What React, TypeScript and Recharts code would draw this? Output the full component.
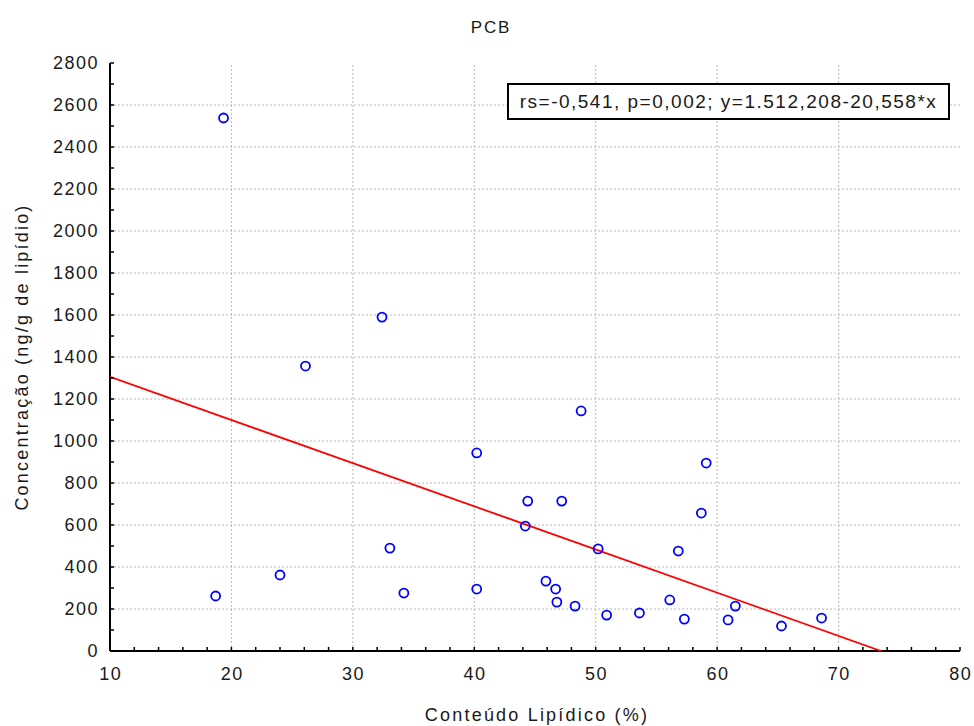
import React from 'react';
import { ScatterChart, Scatter, XAxis, YAxis, ReferenceLine } from 'recharts';

const lipidContent = [18.7, 19.35, 24.0, 26.1, 32.4, 33.05, 34.2, 40.2, 40.2, 44.2, 44.4, 45.9, 46.7, 46.8, 47.2, 48.3, 48.8, 50.2, 50.9, 53.6, 56.1, 56.8, 57.3, 58.7, 59.1, 60.9, 61.5, 65.3, 68.6];
const pcbConc = [262, 2538, 362, 1357, 1590, 490, 276, 943, 295, 595, 714, 333, 295, 233, 714, 214, 1143, 486, 171, 181, 243, 476, 152, 657, 895, 148, 214, 119, 157];
const fitX = [10, 73.5];
const fitY = [1306, 0];
const xTicks = [10, 12, 14, 16, 18, 20, 22, 24, 26, 28, 30, 32, 34, 36, 38, 40, 42, 44, 46, 48, 50, 52, 54, 56, 58, 60, 62, 64, 66, 68, 70, 72, 74, 76, 78, 80];
const yTicks = [0, 100, 200, 300, 400, 500, 600, 700, 800, 900, 1000, 1100, 1200, 1300, 1400, 1500, 1600, 1700, 1800, 1900, 2000, 2100, 2200, 2300, 2400, 2500, 2600, 2700, 2800];
const xGrid = [20, 30, 40, 50, 60, 70];
const yGrid = [200, 400, 600, 800, 1000, 1200, 1400, 1600, 1800, 2000, 2200, 2400, 2600];

const points = lipidContent.map((x, i) => ({ x, y: pcbConc[i] }));
const fitLine = fitX.map((x, i) => ({ x, y: fitY[i] }));

const FONT = '"Liberation Sans", Arial, sans-serif';
const TXT = '#1a1a1a';
const TL = 4;

const XTickBottom = (props: any) => {
  const { x, y, payload } = props;
  const v = payload.value;
  const major = v % 10 === 0;
  return (
    <g>
      <line x1={x} y1={y} x2={x} y2={y - TL} stroke="#000" strokeWidth={1.5} />
      {major && (
        <text x={x + 0.75} y={y + 29} textAnchor="middle" fontFamily={FONT} fontSize={18} letterSpacing={1.5} fill={TXT}>
          {v}
        </text>
      )}
    </g>
  );
};

const XTickTop = (props: any) => {
  const { x, y } = props;
  return <line x1={x} y1={y} x2={x} y2={y + TL} stroke="#000" strokeWidth={1.5} />;
};

const YTickLeft = (props: any) => {
  const { x, y, payload } = props;
  const v = payload.value;
  const major = v % 200 === 0;
  return (
    <g>
      <line x1={x} y1={y} x2={x + TL} y2={y} stroke="#000" strokeWidth={1.5} />
      {major && (
        <text x={x - 11} y={y} dy="0.36em" textAnchor="end" fontFamily={FONT} fontSize={18} letterSpacing={1.5} fill={TXT}>
          {v}
        </text>
      )}
    </g>
  );
};

const YTickRight = (props: any) => {
  const { x, y } = props;
  return <line x1={x} y1={y} x2={x - TL} y2={y} stroke="#000" strokeWidth={1.5} />;
};

const Dot = (props: any) => {
  const { cx, cy } = props;
  return <circle cx={cx} cy={cy} r={4.5} fill="none" stroke="#0000ff" strokeWidth={1.8} />;
};

const NoDot = () => <g />;

export default function App() {
  return (
    <div style={{ position: 'relative', width: 974, height: 726, overflow: 'hidden', fontFamily: FONT, background: '#fff' }}>
      <style>{'body{margin:0}.recharts-surface{overflow:visible}'}</style>
      <ScatterChart width={974} height={726} margin={{ top: 63, right: 14, bottom: 0, left: 8 }}>
        <XAxis xAxisId="b" type="number" dataKey="x" domain={[10, 80]} ticks={xTicks} interval={0} allowDataOverflow
          height={75} tickSize={0} tickMargin={0} tick={<XTickBottom />} axisLine={{ stroke: '#000', strokeWidth: 2 }} tickLine={false} />
        <XAxis xAxisId="t" orientation="top" type="number" dataKey="x" domain={[10, 80]} ticks={xTicks} interval={0} allowDataOverflow
          height={0} tickSize={0} tickMargin={0} tick={<XTickTop />} axisLine={{ stroke: '#000', strokeWidth: 2 }} tickLine={false} />
        <YAxis yAxisId="l" type="number" dataKey="y" domain={[0, 2800]} ticks={yTicks} interval={0} allowDataOverflow
          width={102} tickSize={0} tickMargin={0} tick={<YTickLeft />} axisLine={{ stroke: '#000', strokeWidth: 2 }} tickLine={false} />
        <YAxis yAxisId="r" orientation="right" type="number" dataKey="y" domain={[0, 2800]} ticks={yTicks} interval={0} allowDataOverflow
          width={0} tickSize={0} tickMargin={0} tick={<YTickRight />} axisLine={{ stroke: '#000', strokeWidth: 2 }} tickLine={false} />
        {xGrid.map((v) => (
          <ReferenceLine key={'gx' + v} x={v} xAxisId="b" yAxisId="l" stroke="#b8b8b8" strokeWidth={1} strokeDasharray="2 2" />
        ))}
        {yGrid.map((v) => (
          <ReferenceLine key={'gy' + v} y={v} xAxisId="b" yAxisId="l" stroke="#b8b8b8" strokeWidth={1} strokeDasharray="2 2" />
        ))}
        <Scatter data={fitLine} xAxisId="b" yAxisId="l" line={{ stroke: '#ff0000', strokeWidth: 1.8 }} shape={<NoDot />} isAnimationActive={false} legendType="none" />
        <Scatter data={points} xAxisId="b" yAxisId="l" shape={<Dot />} isAnimationActive={false} legendType="none" />
      </ScatterChart>
      <div style={{ position: 'absolute', left: 391, top: 18, width: 200, textAlign: 'center', fontSize: 17, letterSpacing: 1.8, color: TXT }}>PCB</div>
      <div style={{ position: 'absolute', left: 337, top: 705, width: 400, textAlign: 'center', fontSize: 18, letterSpacing: 2.2, color: TXT }}>Conteúdo Lipídico (%)</div>
      <div style={{ position: 'absolute', left: 22 - 200, top: 357 - 11, width: 400, height: 22, lineHeight: '22px', textAlign: 'center', fontSize: 18, letterSpacing: 2.2, color: TXT, transform: 'rotate(-90deg)', transformOrigin: '50% 50%' }}>Concentração (ng/g de lipídio)</div>
      <div style={{ position: 'absolute', left: 507, top: 83, width: 439, height: 33, border: '2px solid #000', background: '#fff', fontSize: 19, letterSpacing: 1.5, lineHeight: '33px', textAlign: 'center', color: TXT, whiteSpace: 'nowrap' }}>rs=-0,541, p=0,002; y=1.512,208-20,558*x</div>
    </div>
  );
}
